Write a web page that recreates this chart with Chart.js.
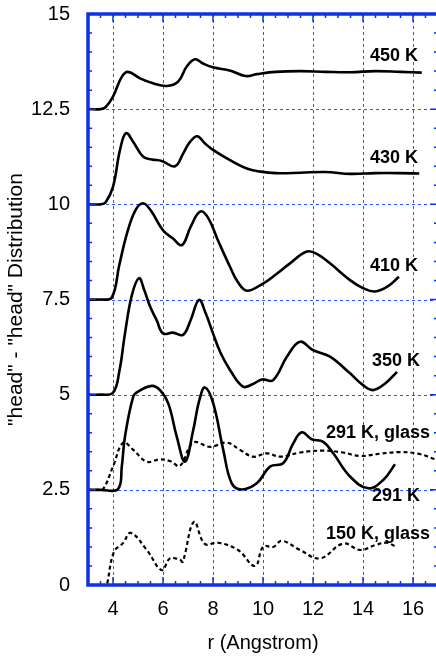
<!DOCTYPE html>
<html>
<head>
<meta charset="utf-8">
<script src="https://cdn.jsdelivr.net/npm/chart.js@4/dist/chart.umd.min.js"></script>
<style>
  html, body { margin: 0; padding: 0; background: #fff; overflow: hidden; width: 436px; height: 659px; }
  #wrap { width: 440px; height: 659px; }
</style>
</head>
<body>
<div id="wrap"><canvas id="rdf" width="440" height="659"></canvas></div>
<script>
// r values (Angstrom) and offset distribution values
const r450 = [3.0, 3.5, 3.7, 4.0, 4.35, 4.6, 5.08, 5.6, 6.15, 6.6, 6.95, 7.28, 7.6, 8.0, 8.7, 9.3, 9.75, 10.5, 11.5, 12.5, 13.5, 14.5, 15.5, 16.35];
const g450 = [12.5, 12.5, 12.55, 12.83, 13.35, 13.48, 13.31, 13.18, 13.11, 13.22, 13.62, 13.81, 13.7, 13.6, 13.51, 13.37, 13.42, 13.48, 13.5, 13.48, 13.47, 13.5, 13.48, 13.46];

const r430 = [3.0, 3.5, 3.7, 4.0, 4.28, 4.52, 4.81, 5.21, 5.55, 5.95, 6.48, 6.81, 7.08, 7.37, 7.68, 8.0, 8.68, 9.35, 9.9, 10.5, 11.5, 12.5, 13.5, 14.5, 15.5, 16.25];
const g430 = [10.0, 10.0, 10.05, 10.46, 11.43, 11.87, 11.64, 11.25, 11.18, 11.14, 11.0, 11.34, 11.64, 11.79, 11.6, 11.43, 11.16, 10.94, 10.86, 10.82, 10.83, 10.85, 10.8, 10.82, 10.82, 10.81];

const r410 = [3.0, 3.5, 3.95, 4.25, 4.56, 4.9, 5.2, 5.5, 6.0, 6.4, 6.76, 7.1, 7.48, 7.8, 8.2, 8.68, 9.0, 9.36, 10.0, 10.5, 11.08, 11.76, 12.2, 12.68, 13.48, 14.0, 14.48, 15.0, 15.44];
const g410 = [7.5, 7.5, 7.55, 8.4, 9.24, 9.85, 10.03, 9.85, 9.32, 9.1, 8.93, 9.4, 9.81, 9.65, 9.05, 8.36, 7.95, 7.73, 7.92, 8.15, 8.45, 8.76, 8.68, 8.45, 8.01, 7.8, 7.71, 7.85, 8.1];

const r350 = [3.0, 3.5, 4.0, 4.25, 4.48, 4.75, 5.04, 5.25, 5.48, 5.75, 6.0, 6.4, 6.8, 7.1, 7.44, 7.7, 8.0, 8.3, 8.68, 9.2, 9.6, 9.96, 10.4, 10.96, 11.48, 12.0, 12.68, 13.48, 14.0, 14.4, 14.9, 15.36];
const g350 = [5.0, 5.0, 5.05, 5.6, 6.61, 7.6, 8.06, 7.75, 7.32, 6.95, 6.61, 6.63, 6.57, 6.95, 7.49, 7.15, 6.61, 6.1, 5.65, 5.21, 5.28, 5.4, 5.38, 6.0, 6.39, 6.17, 6.0, 5.56, 5.25, 5.12, 5.3, 5.6];

const r291 = [3.0, 3.5, 4.2, 4.35, 4.48, 4.81, 5.0, 5.55, 5.88, 6.21, 6.55, 6.88, 7.21, 7.45, 7.68, 8.01, 8.41, 8.75, 9.15, 9.75, 10.28, 10.81, 11.21, 11.55, 11.95, 12.41, 12.81, 13.48, 14.21, 14.81, 15.28];
const g291 = [2.5, 2.5, 2.52, 3.1, 3.9, 4.95, 5.08, 5.23, 5.12, 4.77, 3.9, 3.24, 4.07, 4.85, 5.19, 4.77, 3.55, 2.67, 2.51, 2.67, 3.11, 3.2, 3.72, 4.01, 3.83, 3.76, 3.46, 2.85, 2.54, 2.76, 3.17];

const r291g = [3.0, 3.4, 3.61, 4.0, 4.41, 4.81, 5.35, 5.88, 6.3, 6.68, 7.21, 7.88, 8.55, 9.08, 9.61, 10.15, 10.68, 11.48, 12.41, 13.2, 13.88, 14.7, 15.48, 16.2, 16.9];
const g291g = [2.5, 2.5, 2.52, 3.11, 3.74, 3.55, 3.24, 3.3, 3.25, 3.13, 3.74, 3.63, 3.74, 3.55, 3.37, 3.46, 3.37, 3.48, 3.53, 3.48, 3.39, 3.45, 3.49, 3.45, 3.3];

const r150g = [3.77, 4.04, 4.4, 4.71, 5.35, 5.95, 6.28, 6.68, 6.79, 7.24, 7.67, 8.2, 9.0, 9.68, 10.01, 10.41, 10.75, 11.48, 12.28, 13.21, 13.88, 14.5, 14.95, 15.28];
const g150g = [0.04, 0.87, 1.1, 1.37, 0.92, 0.39, 0.7, 0.66, 0.61, 1.66, 1.08, 1.11, 0.92, 0.5, 1.01, 1.0, 1.16, 0.92, 0.7, 1.09, 0.92, 1.05, 1.11, 1.02];

const xTicks = [4, 6, 8, 10, 12, 14, 16];
const yTicks = [0, 2.5, 5, 7.5, 10, 12.5, 15];

const seriesLabels = ['450 K', '430 K', '410 K', '350 K', '291 K', '291 K, glass', '150 K, glass'];

const blue = 'rgb(16, 48, 228)';
const gridBlue = 'rgb(45, 85, 255)';
const fontFamily = '"Liberation Sans", Arial, sans-serif';

function pts(rs, gs) {
    return rs.map((r, i) => ({ x: r, y: gs[i] }));
}

function line(label, rs, gs, dashed) {
    return {
        label: label,
        data: pts(rs, gs),
        borderColor: '#000',
        borderWidth: dashed ? 2.2 : 2.6,
        borderDash: dashed ? [4, 3] : [],
        pointRadius: 0,
        tension: 0.4,
        fill: false
    };
}

// where the temperature tags sit (data units, right aligned)
const tagPlaces = [
    { text: '450 K', x: 16.2, y: 13.9 },
    { text: '430 K', x: 16.2, y: 11.22 },
    { text: '410 K', x: 16.2, y: 8.38 },
    { text: '350 K', x: 16.28, y: 5.88 },
    { text: '291 K, glass', x: 16.68, y: 3.99 },
    { text: '291 K', x: 16.28, y: 2.34 },
    { text: '150 K, glass', x: 16.68, y: 1.34 }
];

// dashed blue grid, frame, inward minor/major ticks and the curve tags
const framePlugin = {
    id: 'framePlugin',
    beforeDatasetsDraw(chart) {
        const { ctx, chartArea: a, scales: { x, y } } = chart;
        ctx.save();
        ctx.strokeStyle = gridBlue;
        ctx.lineWidth = 1;
        ctx.setLineDash([3, 3]);
        xTicks.forEach(v => {
            const px = Math.round(x.getPixelForValue(v)) + 0.5;
            ctx.beginPath();
            ctx.moveTo(px, a.top); ctx.lineTo(px, a.bottom);
            ctx.stroke();
        });
        yTicks.forEach(v => {
            const py = Math.round(y.getPixelForValue(v)) + 0.5;
            ctx.beginPath();
            ctx.moveTo(a.left, py); ctx.lineTo(a.right, py);
            ctx.stroke();
        });
        ctx.restore();
    },
    afterDraw(chart) {
        const { ctx, chartArea: a, scales: { x, y } } = chart;
        ctx.save();
        ctx.strokeStyle = blue;
        ctx.lineWidth = 1.5;
        for (let v = 3; v <= 17.001; v += 0.5) {
            const px = x.getPixelForValue(v);
            const len = xTicks.includes(v) ? 8 : 4;
            ctx.beginPath();
            ctx.moveTo(px, a.bottom); ctx.lineTo(px, a.bottom - len);
            ctx.moveTo(px, a.top); ctx.lineTo(px, a.top + len);
            ctx.stroke();
        }
        for (let v = 0; v <= 15.001; v += 0.5) {
            const py = y.getPixelForValue(v);
            const len = yTicks.includes(v) ? 8 : 4;
            ctx.beginPath();
            ctx.moveTo(a.left, py); ctx.lineTo(a.left + len, py);
            ctx.moveTo(a.right, py); ctx.lineTo(a.right - len, py);
            ctx.stroke();
        }
        ctx.lineWidth = 3.5;
        ctx.strokeRect(a.left, a.top, a.right - a.left, a.bottom - a.top);

        ctx.fillStyle = '#000';
        ctx.font = 'bold 18px ' + fontFamily;
        ctx.textAlign = 'right';
        ctx.textBaseline = 'middle';
        tagPlaces.forEach(t => {
            ctx.fillText(t.text, x.getPixelForValue(t.x), y.getPixelForValue(t.y));
        });
        ctx.restore();
    }
};

const ctx = document.getElementById('rdf').getContext('2d');
new Chart(ctx, {
    type: 'line',
    data: {
        datasets: [
            line(seriesLabels[0], r450, g450, false),
            line(seriesLabels[1], r430, g430, false),
            line(seriesLabels[2], r410, g410, false),
            line(seriesLabels[3], r350, g350, false),
            line(seriesLabels[4], r291, g291, false),
            line(seriesLabels[5], r291g, g291g, true),
            line(seriesLabels[6], r150g, g150g, true)
        ]
    },
    options: {
        responsive: false,
        animation: false,
        layout: { padding: { top: 14, right: 2, left: 0, bottom: 0 } },
        plugins: {
            legend: { display: false },
            tooltip: { enabled: false }
        },
        scales: {
            x: {
                type: 'linear',
                min: 3,
                max: 17,
                afterBuildTicks: s => { s.ticks = xTicks.map(v => ({ value: v })); },
                afterFit: s => {
                    s.height = 74;
                    s.paddingLeft = 0;
                    s.paddingRight = 0;
                },
                grid: { display: false },
                border: { display: false },
                ticks: {
                    color: '#000',
                    padding: 4,
                    font: { family: fontFamily, size: 20 }
                },
                title: {
                    display: true,
                    text: 'r (Angstrom)',
                    color: '#000',
                    padding: { top: 8 },
                    font: { family: fontFamily, size: 20 }
                }
            },
            y: {
                min: 0,
                max: 15,
                afterBuildTicks: s => { s.ticks = yTicks.map(v => ({ value: v })); },
                afterFit: s => {
                    s.width = 88;
                    s.paddingTop = 0;
                    s.paddingBottom = 0;
                },
                grid: { display: false },
                border: { display: false },
                ticks: {
                    color: '#000',
                    padding: 10,
                    font: { family: fontFamily, size: 20 }
                },
                title: {
                    display: true,
                    text: '"head" - "head" Distribution',
                    color: '#000',
                    padding: { top: 4, bottom: 0 },
                    font: { family: fontFamily, size: 21 }
                }
            }
        }
    },
    plugins: [framePlugin]
});
</script>
</body>
</html>
